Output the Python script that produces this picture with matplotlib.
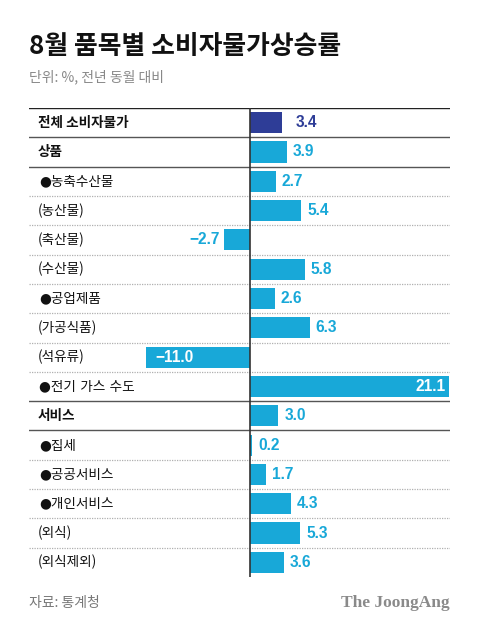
"""8월 품목별 소비자물가 상승률 - horizontal bar chart."""

import matplotlib

matplotlib.use("Agg")

import matplotlib.pyplot as plt
from matplotlib.transforms import blended_transform_factory

plt.rcParams["font.family"] = ["Noto Sans CJK KR", "DejaVu Sans"]

# data
categories = [
    "전체 소비자물가", "상품", "●농축수산물", "(농산물)", "(축산물)", "(수산물)",
    "●공업제품", "(가공식품)", "(석유류)", "●전기 가스 수도", "서비스",
    "●집세", "●공공서비스", "●개인서비스", "(외식)", "(외식제외)",
]
values = [3.4, 3.9, 2.7, 5.4, -2.7, 5.8, 2.6, 6.3, -11.0, 21.1, 3.0,
          0.2, 1.7, 4.3, 5.3, 3.6]
bold_rows = [0, 1, 10]
solid_after = [0, 1, 9, 10]

NAVY = "#2e3d97"
CYAN = "#18a8d8"

W, H = 480, 629
fig = plt.figure(figsize=(W / 100, H / 100), dpi=100)

# axes placed in pixel terms: x 29..450, y 108..577 (from top)
left_px, right_px, top_px, bottom_px = 29, 450, 108, 577
zero_px = 250
px_per_unit = 9.45
ax = fig.add_axes([left_px / W, 1 - bottom_px / H,
                   (right_px - left_px) / W, (bottom_px - top_px) / H])
ax.set_xlim((left_px - zero_px) / px_per_unit, (right_px - zero_px) / px_per_unit)
n = len(categories)
ax.set_ylim(n, 0)
ax.axis("off")

ypos = [i + 0.5 for i in range(n)]
colors = [NAVY] + [CYAN] * (n - 1)
ax.barh(ypos, values, height=0.72, color=colors, zorder=2)

# separators
ax.axhline(0, color="#222222", lw=1.0, zorder=3)
for i in range(n - 1):
    if i in solid_after:
        ax.axhline(i + 1, color="#555555", lw=1.0, zorder=1)
    else:
        ax.axhline(i + 1, color="#b0b0b0", lw=0.9, ls=(0, (1, 1)), zorder=1)
ax.axvline(0, color="#333333", lw=1.2, zorder=4)

# category labels
trans = blended_transform_factory(fig.transFigure, ax.transData)
for i, (cat, y) in enumerate(zip(categories, ypos)):
    if cat.startswith("●"):
        fam = ["DejaVu Sans", "Noto Sans CJK KR"]
        x_px = 39
    else:
        fam = ["Noto Sans CJK KR", "DejaVu Sans"]
        x_px = 38
    ax.text(x_px / W, y, cat, transform=trans, ha="left", va="center",
            fontsize=9.8, color="#111111", family=fam,
            fontweight="bold" if i in bold_rows else "normal")

# value labels
gap = 6 / px_per_unit
for i, (v, y) in enumerate(zip(values, ypos)):
    txt = f"{v:.1f}".replace("-", "−")
    col = NAVY if i == 0 else CYAN
    kw = dict(va="center", fontsize=11.2, fontweight="bold",
              family=["Liberation Sans", "DejaVu Sans"], zorder=5)
    if v > 15:
        ax.text(v - 4 / px_per_unit, y, txt, ha="right", color="white", **kw)
    elif v < -8:
        ax.text(v + 9 / px_per_unit, y, txt, ha="left", color="white", **kw)
    elif v < 0:
        ax.text(v - 5 / px_per_unit, y, txt, ha="right", color=col, **kw)
    else:
        extra = 8 / px_per_unit if i == 0 else 0
        ax.text(v + gap + extra, y, txt, ha="left", color=col, **kw)

# title, subtitle, footer
fig.text(29 / W, 1 - 47 / H, "8월 품목별 소비자물가상승률", fontsize=18.6,
         fontweight="bold", color="#111111", ha="left", va="center")
fig.text(29 / W, 1 - 77 / H, "단위: %, 전년 동월 대비", fontsize=10,
         color="#888888", ha="left", va="center")
fig.text(29 / W, 1 - 603 / H, "자료: 통계청", fontsize=10,
         color="#777777", ha="left", va="center")
fig.text(450 / W, 1 - 603 / H, "The JoongAng", fontsize=12.5, fontweight="bold",
         family=["Liberation Serif", "DejaVu Serif"], color="#8a8a8a",
         ha="right", va="center")

fig.savefig("out.png", dpi=100, facecolor="white")
